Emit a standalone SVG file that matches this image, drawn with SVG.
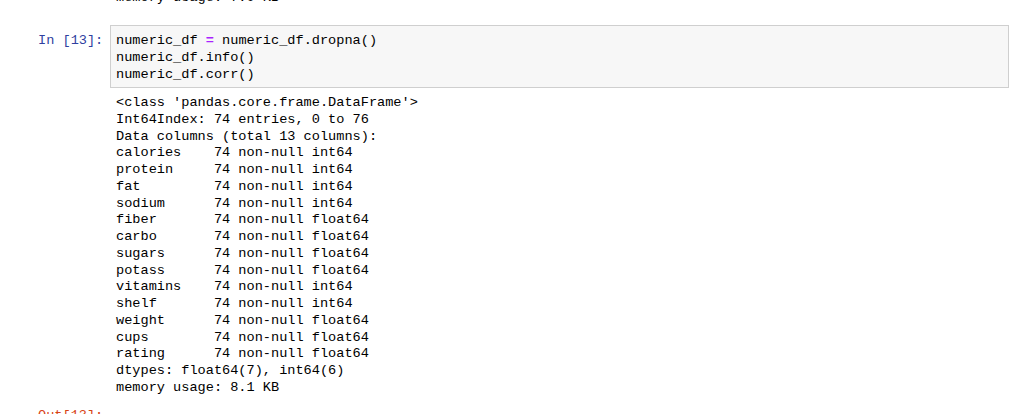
<svg xmlns="http://www.w3.org/2000/svg" width="1024" height="414" viewBox="0 0 1024 414">
<style>
text{font-family:"Liberation Mono","DejaVu Sans Mono",monospace;font-size:13.6px;white-space:pre;fill:#000}
.p{fill:#303f9f}
.o{fill:#d84315}
.op{fill:#aa22ff;font-weight:bold}
</style>
<rect width="1024" height="414" fill="#fff"/>
<text x="116" y="1" xml:space="preserve">memory usage: 7.0 KB</text>
<g id="cell">
<rect x="110.5" y="25.5" width="898" height="62" fill="#f7f7f7" stroke="#cfcfcf"/>
<text class="p" x="38" y="44">In [13]:</text>
<text x="116" y="44" xml:space="preserve">numeric_df <tspan class="op">=</tspan> numeric_df.dropna()</text>
<text x="116" y="61">numeric_df.info()</text>
<text x="116" y="78">numeric_df.corr()</text>
</g>
<g id="output" xml:space="preserve">
<text x="116" y="106">&lt;class 'pandas.core.frame.DataFrame'&gt;</text>
<text x="116" y="122.8">Int64Index: 74 entries, 0 to 76</text>
<text x="116" y="139.5">Data columns (total 13 columns):</text>
<text x="116" y="156.3">calories    74 non-null int64</text>
<text x="116" y="173">protein     74 non-null int64</text>
<text x="116" y="189.8">fat         74 non-null int64</text>
<text x="116" y="206.6">sodium      74 non-null int64</text>
<text x="116" y="223.3">fiber       74 non-null float64</text>
<text x="116" y="240.1">carbo       74 non-null float64</text>
<text x="116" y="256.8">sugars      74 non-null float64</text>
<text x="116" y="273.6">potass      74 non-null float64</text>
<text x="116" y="290.4">vitamins    74 non-null int64</text>
<text x="116" y="307.1">shelf       74 non-null int64</text>
<text x="116" y="323.9">weight      74 non-null float64</text>
<text x="116" y="340.6">cups        74 non-null float64</text>
<text x="116" y="357.4">rating      74 non-null float64</text>
<text x="116" y="374.2">dtypes: float64(7), int64(6)</text>
<text x="116" y="391">memory usage: 8.1 KB</text>
</g>
<text class="o" x="38" y="419">Out[13]:</text>
</svg>
